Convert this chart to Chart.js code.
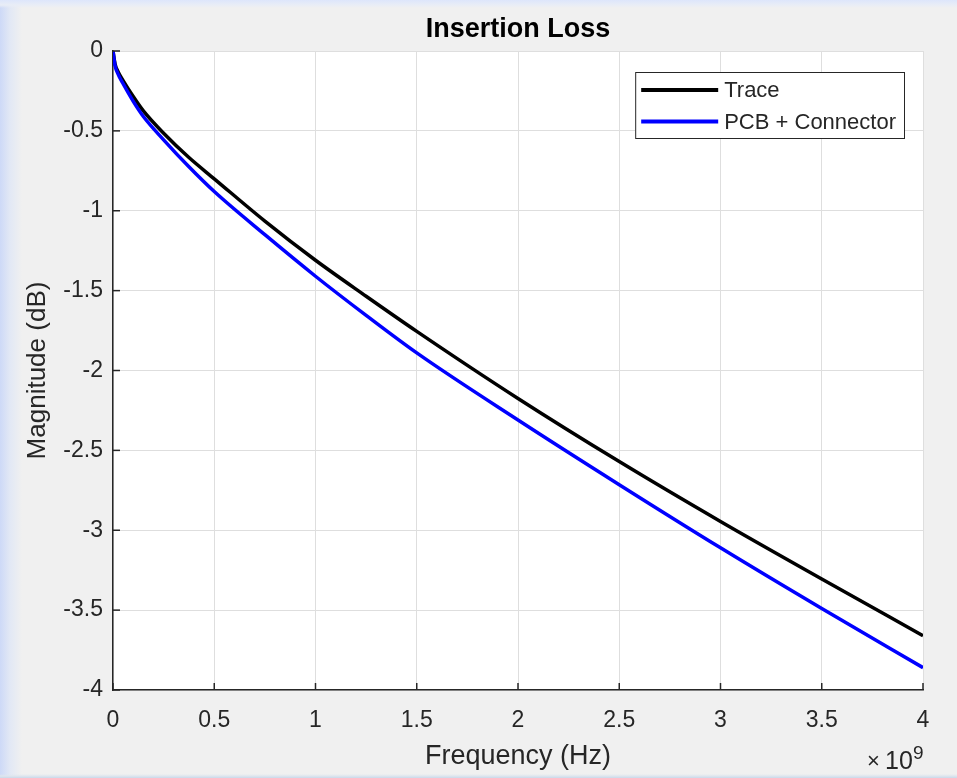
<!DOCTYPE html>
<html>
<head>
<meta charset="utf-8">
<script src="https://cdn.jsdelivr.net/npm/chart.js@4.4.0/dist/chart.umd.min.js"></script>
<style>
    html, body {
        margin: 0;
        padding: 0;
        width: 957px;
        height: 778px;
        overflow: hidden;
        background:
            linear-gradient(to bottom, #dde6fb 0, #e9edf6 5px, rgba(240,240,240,0) 8px),
            linear-gradient(to top, #c9d9ea 0, #dfe6ee 2px, rgba(240,240,240,0) 4px),
            linear-gradient(to right, #cdd9f7 0, #e2e8f5 10px, #f0f0f0 22px);
    }
    #wrap { position: absolute; left: 0; top: 0; width: 957px; height: 778px; }
</style>
</head>
<body>
<div id="wrap"><canvas id="lossChart"></canvas></div>
<script>
// frequency in units of 1e9 Hz (axis shows x10^9)
const freq  = [0, 0.01, 0.025, 0.05, 0.1, 0.15, 0.25, 0.375, 0.5, 0.75, 1.0, 1.25, 1.5, 2.0, 2.5, 3.0, 3.5, 4.0];
const trace = [0, -0.08, -0.13, -0.185, -0.285, -0.375, -0.515, -0.667, -0.80, -1.065, -1.31, -1.535, -1.755, -2.175, -2.57, -2.945, -3.305, -3.66];
const pcb   = [0, -0.09, -0.145, -0.205, -0.315, -0.41, -0.556, -0.725, -0.88, -1.15, -1.41, -1.655, -1.89, -2.31, -2.715, -3.11, -3.49, -3.86];
const seriesNames = ['Trace', 'PCB + Connector'];
const chartTitle = 'Insertion Loss';

const FONT = "'Liberation Sans', Arial, sans-serif";
const AXIS = '#262626';

const toPoints = ys => freq.map((f, i) => ({ x: f, y: ys[i] }));
const fmt = v => String(Number(v.toFixed(2)));

// white plot area
const plotBg = {
    id: 'plotBg',
    beforeDraw(chart) {
        const { ctx, chartArea: a } = chart;
        ctx.save();
        ctx.fillStyle = '#ffffff';
        ctx.fillRect(a.left, a.top, a.right - a.left, a.bottom - a.top);
        ctx.restore();
    }
};

// MATLAB style: title over the axes, inward ticks, exponent label, legend box
const extras = {
    id: 'extras',
    afterDatasetsDraw(chart) {
        const { ctx, chartArea: a, scales } = chart;
        ctx.save();

        ctx.fillStyle = '#000000';
        ctx.font = 'bold 27px ' + FONT;
        ctx.textAlign = 'center';
        ctx.textBaseline = 'middle';
        ctx.fillText(chartTitle, (a.left + a.right) / 2, a.top - 21);

        ctx.strokeStyle = AXIS;
        ctx.lineWidth = 1.5;
        scales.y.ticks.forEach(t => {
            const y = scales.y.getPixelForValue(t.value);
            ctx.beginPath(); ctx.moveTo(a.left, y); ctx.lineTo(a.left + 7, y); ctx.stroke();
        });
        scales.x.ticks.forEach(t => {
            const x = scales.x.getPixelForValue(t.value);
            ctx.beginPath(); ctx.moveTo(x, a.bottom); ctx.lineTo(x, a.bottom - 7); ctx.stroke();
        });

        // x10^9
        ctx.fillStyle = AXIS;
        ctx.textBaseline = 'alphabetic';
        ctx.textAlign = 'left';
        ctx.font = '22px ' + FONT;
        ctx.fillText('\u00d7', a.right - 56, a.bottom + 78);
        ctx.font = '25px ' + FONT;
        ctx.fillText('10', a.right - 38, a.bottom + 79);
        ctx.font = '19px ' + FONT;
        ctx.fillText('9', a.right - 10, a.bottom + 69);

        // legend
        ctx.font = '22px ' + FONT;
        const widths = chart.data.datasets.map(d => ctx.measureText(d.label).width);
        const boxW = 6 + 77 + 6 + Math.max(...widths) + 8;
        const boxR = a.right - 19, boxT = a.top + 21, rowH = 31.5;
        const boxL = boxR - boxW, boxH = 66;
        ctx.fillStyle = '#ffffff';
        ctx.fillRect(boxL, boxT, boxW, boxH);
        ctx.strokeStyle = '#262626';
        ctx.lineWidth = 1;
        ctx.strokeRect(boxL + 0.5, boxT + 0.5, boxW, boxH);
        chart.data.datasets.forEach((d, i) => {
            const y = boxT + 18 + i * rowH;
            ctx.strokeStyle = d.borderColor;
            ctx.lineWidth = 4;
            ctx.beginPath(); ctx.moveTo(boxL + 6, y); ctx.lineTo(boxL + 83, y); ctx.stroke();
            ctx.fillStyle = AXIS;
            ctx.textBaseline = 'middle';
            ctx.fillText(d.label, boxL + 89, y + 1);
        });
        ctx.restore();
    }
};

new Chart(document.getElementById('lossChart').getContext('2d'), {
    type: 'line',
    data: {
        datasets: [{
            label: seriesNames[0],
            data: toPoints(trace),
            borderColor: '#000000',
            borderWidth: 3.5,
            pointRadius: 0,
            cubicInterpolationMode: 'monotone',
            order: 1
        }, {
            label: seriesNames[1],
            data: toPoints(pcb),
            borderColor: '#0000ff',
            borderWidth: 3.5,
            pointRadius: 0,
            cubicInterpolationMode: 'monotone',
            order: 0
        }]
    },
    options: {
        responsive: true,
        maintainAspectRatio: false,
        animation: false,
        layout: { padding: { left: 10, right: 34, top: 51, bottom: 4 } },
        plugins: {
            legend: { display: false },
            tooltip: { enabled: false },
            title: { display: false }
        },
        scales: {
            x: {
                type: 'linear',
                min: 0,
                max: 4,
                afterFit: s => { s.height = 84; },
                ticks: {
                    stepSize: 0.5,
                    color: AXIS,
                    padding: 17,
                    maxRotation: 0,
                    font: { family: FONT, size: 23 },
                    callback: fmt
                },
                grid: { color: '#dedede', lineWidth: 1, drawTicks: false },
                border: { color: AXIS, width: 1.5 },
                title: {
                    display: true,
                    text: 'Frequency (Hz)',
                    color: AXIS,
                    font: { family: FONT, size: 27 },
                    padding: { top: 0, bottom: 1 }
                }
            },
            y: {
                type: 'linear',
                min: -4,
                max: 0,
                afterFit: s => { s.width = 103; },
                ticks: {
                    stepSize: 0.5,
                    color: AXIS,
                    padding: 10,
                    font: { family: FONT, size: 23 },
                    callback: fmt
                },
                grid: { color: '#dedede', lineWidth: 1, drawTicks: false },
                border: { color: AXIS, width: 1.5 },
                title: {
                    display: true,
                    text: 'Magnitude (dB)',
                    color: AXIS,
                    font: { family: FONT, size: 26 },
                    padding: { top: 12, bottom: 0 }
                }
            }
        }
    },
    plugins: [plotBg, extras]
});
</script>
</body>
</html>
